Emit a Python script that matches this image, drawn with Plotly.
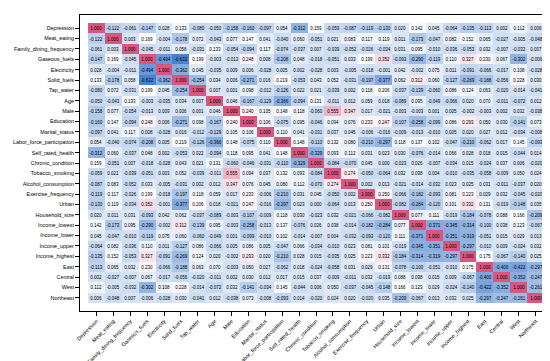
import plotly.graph_objects as go

labels = ["Depression", "Meat_eating", "Family_dining_frequency", "Gaseous_fuels",
          "Electricity", "Solid_fuels", "Tap_water", "Age", "Male", "Education",
          "Marital_status", "Labor_force_participation", "Self_rated_health",
          "Chronic_condition", "Tobacco_smoking", "Alcohol_consumption",
          "Exercise_frequency", "Urban", "Household_size", "Income_lowest",
          "Income_lower", "Income_upper", "Income_highest", "East", "Central",
          "West", "Northeast"]

# upper-triangle rows of the correlation matrix (from the diagonal to the right)
r_depression = [1.000, -0.122, -0.061, -0.147, 0.028, 0.133, -0.080, -0.050, -0.158, -0.160, -0.097, 0.054, -0.312, 0.159, -0.059, -0.087, -0.119, -0.130, 0.020, 0.142, 0.045, -0.064, -0.135, -0.113, 0.002, 0.112, 0.006]
r_meat = [1.000, 0.003, 0.169, -0.004, -0.178, 0.072, -0.043, 0.077, 0.147, 0.041, -0.040, 0.060, -0.051, 0.021, 0.083, 0.117, 0.119, 0.011, -0.173, -0.047, 0.082, 0.152, 0.065, -0.027, -0.005, -0.048]
r_family = [1.000, -0.045, -0.011, 0.058, -0.031, 0.133, -0.054, -0.094, 0.117, -0.074, -0.037, 0.007, -0.039, -0.052, -0.026, -0.034, 0.031, 0.095, -0.010, -0.036, -0.053, 0.032, -0.007, -0.032, 0.007]
r_gaseous = [1.000, -0.494, -0.632, 0.199, -0.003, -0.013, 0.248, 0.008, -0.208, 0.048, -0.018, -0.051, 0.033, 0.199, 0.352, -0.093, -0.290, -0.119, 0.110, 0.327, 0.230, 0.067, -0.302, -0.006]
r_electricity = [1.000, -0.362, 0.045, -0.035, 0.009, 0.006, -0.028, 0.005, 0.002, -0.028, 0.003, -0.005, -0.018, -0.001, 0.042, -0.002, 0.075, 0.011, -0.091, -0.066, -0.017, 0.108, -0.028]
r_solid = [1.000, -0.254, 0.034, 0.006, -0.271, 0.016, 0.219, -0.053, 0.043, 0.052, -0.031, -0.197, -0.377, 0.062, 0.312, 0.060, -0.127, -0.269, -0.188, -0.056, 0.228, 0.030]
r_tap = [1.000, 0.007, 0.001, 0.098, -0.012, -0.126, 0.022, 0.021, -0.039, 0.002, 0.118, 0.206, -0.037, -0.139, -0.060, 0.086, 0.124, 0.063, -0.020, -0.014, -0.041]
r_age = [1.000, 0.046, -0.167, -0.129, -0.366, -0.094, 0.131, -0.011, 0.012, 0.059, 0.018, -0.089, 0.095, -0.049, -0.066, 0.020, 0.070, -0.011, -0.072, 0.012]
r_male = [1.000, 0.240, 0.105, 0.148, 0.118, -0.060, 0.555, 0.347, 0.017, -0.021, -0.003, -0.003, 0.001, 0.005, -0.002, -0.003, 0.002, 0.032, -0.038]
r_education = [1.000, 0.106, -0.075, 0.095, -0.046, 0.094, 0.076, 0.233, 0.247, -0.107, -0.258, -0.099, 0.086, 0.293, 0.050, 0.030, -0.141, 0.073]
r_marital = [1.000, 0.110, 0.041, -0.031, 0.037, 0.045, -0.006, -0.016, -0.009, -0.013, -0.010, 0.005, 0.020, 0.027, 0.012, -0.034, -0.008]
r_labor = [1.000, 0.148, -0.110, 0.132, 0.080, -0.210, -0.297, 0.118, 0.137, 0.102, -0.047, -0.210, -0.062, 0.017, 0.145, -0.093]
r_self_health = [1.000, -0.329, 0.093, 0.112, 0.031, 0.023, 0.030, -0.076, -0.014, 0.066, 0.028, 0.018, 0.015, -0.044, 0.014]
r_chronic = [1.000, -0.084, -0.070, 0.045, 0.000, -0.023, 0.026, -0.007, -0.034, 0.015, -0.024, 0.037, 0.006, -0.020]
r_tobacco = [1.000, 0.274, -0.050, -0.064, 0.032, 0.038, 0.004, -0.010, -0.035, -0.058, -0.009, 0.050, 0.024]
r_alcohol = [1.000, 0.002, 0.013, -0.021, -0.014, -0.032, 0.023, 0.025, 0.031, -0.011, -0.037, 0.020]
r_exercise = [1.000, 0.250, -0.066, -0.182, -0.093, 0.081, 0.223, 0.029, 0.032, -0.045, -0.020]
r_urban = [1.000, -0.082, -0.284, -0.120, 0.101, 0.332, 0.131, -0.019, -0.148, 0.035]
r_household = [1.000, 0.077, 0.111, -0.019, -0.184, -0.078, 0.088, 0.166, -0.209]
r_inc_lowest = [1.000, -0.371, -0.345, -0.314, -0.100, 0.038, 0.123, -0.067]
r_inc_lower = [1.000, -0.351, -0.319, -0.051, 0.015, 0.029, 0.013]
r_inc_upper = [1.000, -0.297, -0.010, 0.009, -0.024, 0.032]
r_inc_highest = [1.000, 0.175, -0.067, -0.140, 0.025]
r_east = [1.000, -0.400, -0.422, -0.297]
r_central = [1.000, -0.352, -0.247]
r_west = [1.000, -0.261]
r_northeast = [1.000]

upper_rows = [r_depression, r_meat, r_family, r_gaseous, r_electricity, r_solid, r_tap,
              r_age, r_male, r_education, r_marital, r_labor, r_self_health, r_chronic,
              r_tobacco, r_alcohol, r_exercise, r_urban, r_household, r_inc_lowest,
              r_inc_lower, r_inc_upper, r_inc_highest, r_east, r_central, r_west,
              r_northeast]

n = len(labels)
z = [[0.0] * n for _ in range(n)]
for i, row in enumerate(upper_rows):
    for k, v in enumerate(row):
        j = i + k
        z[i][j] = v
        z[j][i] = v

zmin = min(min(r) for r in z)
zmax = max(max(r) for r in z)

font_family = "Liberation Sans, Arial, sans-serif"

fig = go.Figure(go.Heatmap(
    z=z, x=labels, y=labels,
    zmin=zmin, zmax=zmax,
    colorscale=[[0.0, "#4a82cf"], [0.5, "#ffffff"], [1.0, "#d9577f"]],
    showscale=False,
    texttemplate="%{z:.3f}",
    textfont=dict(size=4.5, color="black", family=font_family),
    hoverinfo="skip",
))

W, H = 550, 361
ml, mr, mt, mb = 72, 6, 7, 58
pad = 8
cw = (W - ml - mr - 2 * pad) / n
ch = (H - mt - mb - 2 * pad) / n
px_x = pad / cw
px_y = pad / ch

axis_common = dict(
    type="category",
    showline=True, mirror=True, linecolor="black", linewidth=1,
    ticks="outside", ticklen=4, tickwidth=1, tickcolor="black",
    showgrid=False, zeroline=False, automargin=False,
    tickfont=dict(size=5.4, color="black", family=font_family),
)

fig.update_xaxes(range=[-0.5 - px_x, n - 0.5 + px_x], tickangle=-45, **axis_common)
fig.update_yaxes(range=[n - 0.5 + px_y, -0.5 - px_y], **axis_common)

fig.update_layout(
    width=W, height=H,
    margin=dict(l=ml, r=mr, t=mt, b=mb),
    plot_bgcolor="white", paper_bgcolor="white",
    font=dict(family=font_family),
)

fig.write_html("out.html")
